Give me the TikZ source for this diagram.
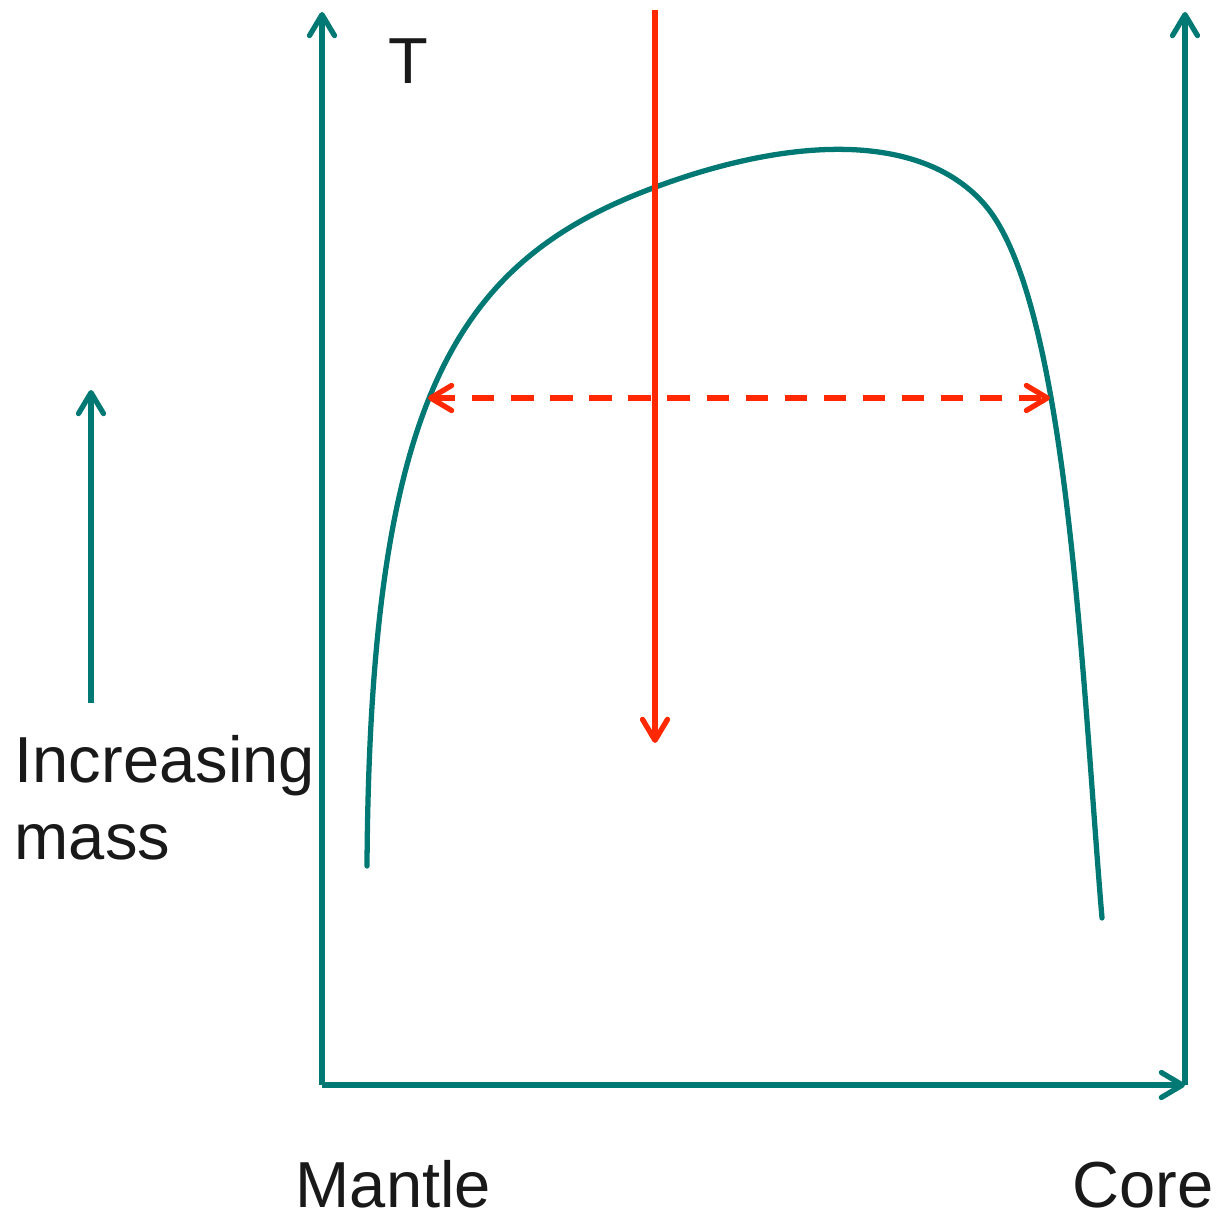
\documentclass[tikz,border=0pt]{standalone}
\usepackage{fontspec}
\setmainfont{Liberation Sans}
\usetikzlibrary{arrows.meta}
\definecolor{teal}{RGB}{0,120,115}
\definecolor{hotred}{RGB}{255,40,0}
\tikzset{
  >={Straight Barb[length=0.21cm,width=0.25cm,line cap=round,line join=round]},
  axis/.style={draw=teal,line width=1.5pt,->},
  redline/.style={draw=hotred,line width=1.5pt},
  lbl/.style={inner sep=0pt,font=\fontsize{18.5}{23}\selectfont,text=black!90}
}
\begin{document}
\begin{tikzpicture}[x=0.01cm,y=-0.01cm]
  \useasboundingbox (0,0) rectangle (1220,1216);

  % axes: mantle to core, temperature up
  \coordinate (origin) at (322,1085);
  \coordinate (ytop) at (322,12);
  \coordinate (xend) at (1185,1085);
  \coordinate (ytopR) at (1185,12);
  \draw[axis] (origin) -- (ytop);
  \draw[axis] (origin) -- (xend);
  \draw[axis] (xend) -- (ytopR);

  % temperature profile
  \coordinate (cstart) at (367,866);
  \coordinate (cross) at (653,188);
  \coordinate (knee) at (985,205);
  \coordinate (cend) at (1102,918);
  \draw[teal,line width=1.5pt,line cap=round]
    (cstart) .. controls (370,400) and (455,262) .. (cross)
             .. controls (800,133) and (925,135) .. (knee)
             .. controls (1068,302) and (1082,680) .. (cend);

  % increasing mass
  \coordinate (mlow) at (91,703);
  \coordinate (mhigh) at (91,390);
  \draw[axis] (mlow) -- (mhigh);
  \node[lbl,anchor=base west] (inc) at (14,783) {Increasing};
  \node[lbl,anchor=base west] (mass) at (14,860) {mass};

  % cooling and the two branches
  \coordinate (rtop) at (655,10);
  \coordinate (rbot) at (655,743);
  \draw[redline,->] (rtop) -- (rbot);
  \coordinate (dl) at (428,398);
  \coordinate (dr) at (1050,398);
  \draw[redline,<->,dash pattern=on 6.3pt off 4.8pt] (dl) -- (dr);

  % labels
  \node[lbl,anchor=base] (T) at (408,84) {T};
  \node[lbl,anchor=base west] (mantle) at (295,1208) {Mantle};
  \node[lbl,anchor=base east] (core) at (1214,1208) {Core};
\end{tikzpicture}
\end{document}
